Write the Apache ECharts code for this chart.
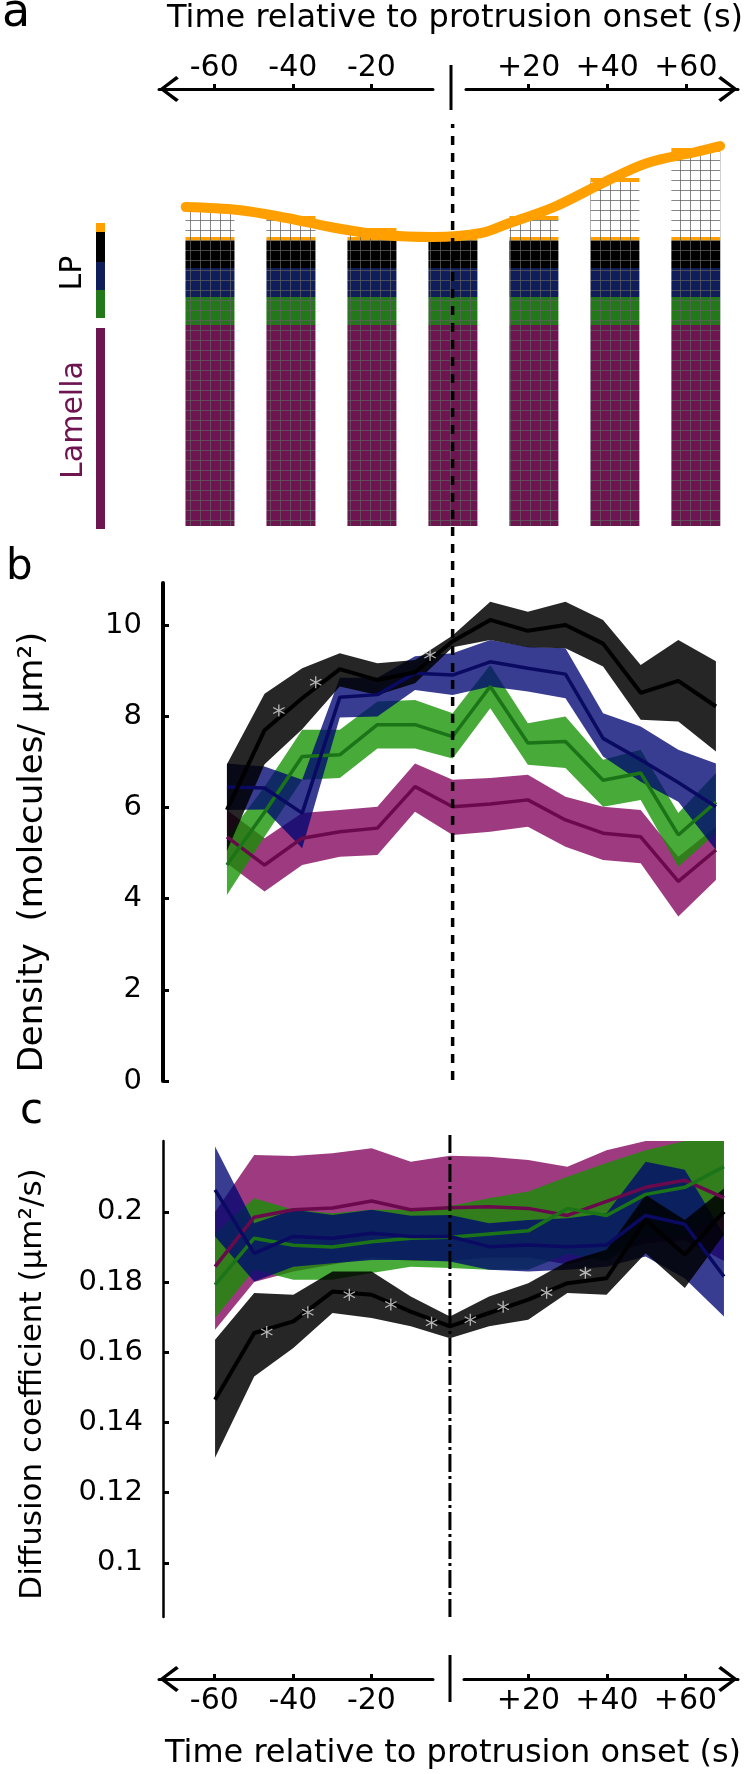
<!DOCTYPE html>
<html>
<head>
<meta charset="utf-8">
<script src="https://cdn.jsdelivr.net/npm/echarts@6.0.0/dist/echarts.min.js"></script>
<style>
  html, body { margin: 0; padding: 0; background: #fff; }
  #main { width: 750px; height: 1774px; }
</style>
</head>
<body>
<div id="main"></div>
<script>
// ---- panel a : schematic of the cell edge (units of ~10 px) ----
var colTimes = [-60, -40, -20, 0, 20, 40, 60];
var lamellaDepth = 20.1, lpGreenDepth = 2.8, lpBlueDepth = 2.9, lpBlackDepth = 2.7, edgeDepth = 0.4;
var protrusion = [2.5, 1.7, 0.5, 0, 1.7, 5.5, 8.5];
var edgeTimes = [-66, -53, -41, -29, -17, -5, 7, 14, 25, 37, 48, 60, 66];
var edgeHeights = [3.0, 2.7, 1.9, 0.9, 0.2, 0.0, 0.4, 1.4, 3.0, 5.4, 7.4, 8.5, 9.1];

// ---- time points of panels b and c (s) ----
var timeSec = [-60, -50, -40, -30, -20, -10, 0, 10, 20, 30, 40, 50, 60, 70];
var arrowTicksLeft = [-60, -40, -20];
var arrowTicksRight = [20, 40, 60];

// ---- panel b : density ----
var densTicks = [0, 2, 4, 6, 8, 10];
var densBlack   = [5.95, 7.70, 8.40, 9.04, 8.80, 8.97, 9.65, 10.12, 9.88, 10.01, 9.60, 8.52, 8.78, 8.22];
var densBlackLo = [5.05, 6.95, 7.72, 8.66, 8.47, 8.73, 9.52, 9.68, 9.52, 9.50, 9.10, 7.93, 7.89, 7.23];
var densBlackHi = [6.95, 8.50, 9.06, 9.39, 9.17, 9.24, 9.78, 10.52, 10.30, 10.52, 10.12, 9.13, 9.68, 9.21];
var densBlue    = [6.45, 6.43, 5.88, 8.42, 8.48, 8.95, 8.91, 9.20, 9.06, 8.93, 7.52, 7.05, 6.55, 6.02];
var densBlueLo  = [5.95, 5.96, 5.11, 7.98, 8.00, 8.58, 8.47, 8.66, 8.55, 8.40, 7.12, 6.57, 6.13, 5.07];
var densBlueHi  = [6.97, 6.90, 6.61, 8.85, 8.85, 9.32, 9.39, 9.68, 9.53, 9.50, 8.07, 7.78, 7.27, 6.97];
var densGreen   = [4.74, 5.90, 7.12, 7.16, 7.82, 7.82, 7.56, 8.66, 7.42, 7.45, 6.60, 6.76, 5.40, 6.12];
var densGreenLo = [4.08, 5.36, 6.61, 6.65, 7.30, 7.30, 7.08, 8.18, 6.94, 6.87, 6.02, 6.17, 4.70, 5.44];
var densGreenHi = [5.36, 6.46, 7.71, 7.71, 8.33, 8.36, 8.07, 9.13, 7.85, 8.00, 7.05, 7.27, 5.88, 6.76];
var densPurple   = [5.36, 4.74, 5.33, 5.47, 5.55, 6.46, 6.02, 6.08, 6.17, 5.73, 5.44, 5.36, 4.38, 5.07];
var densPurpleLo = [4.78, 4.16, 4.74, 4.92, 4.96, 5.91, 5.40, 5.47, 5.58, 5.14, 4.85, 4.78, 3.61, 4.41];
var densPurpleHi = [5.95, 5.33, 5.88, 5.95, 6.02, 6.97, 6.61, 6.65, 6.72, 6.24, 6.02, 5.95, 4.92, 5.58];
var starTimesB = [-46.2, -36.4, -6.0];
var starValsB = [8.13, 8.75, 9.35];

// ---- panel c : diffusion coefficient ----
var diffTicks = [0.1, 0.12, 0.14, 0.16, 0.18, 0.2];
var diffBlack   = [0.1465, 0.1655, 0.1688, 0.1773, 0.1764, 0.1716, 0.1674, 0.1712, 0.1750, 0.1797, 0.1811, 0.1977, 0.1878, 0.2001];
var diffBlackLo = [0.1300, 0.1531, 0.1612, 0.1712, 0.1698, 0.1674, 0.1640, 0.1674, 0.1693, 0.1769, 0.1764, 0.1882, 0.1783, 0.1935];
var diffBlackHi = [0.1636, 0.1769, 0.1764, 0.1830, 0.1830, 0.1759, 0.1702, 0.1759, 0.1797, 0.1859, 0.1892, 0.2048, 0.1977, 0.2067];
var diffBlue    = [0.2063, 0.1882, 0.1930, 0.1925, 0.1939, 0.1930, 0.1930, 0.1901, 0.1906, 0.1901, 0.1906, 0.1990, 0.1965, 0.1816];
var diffBlueLo  = [0.1930, 0.1802, 0.1844, 0.1854, 0.1863, 0.1863, 0.1859, 0.1835, 0.1830, 0.1835, 0.1844, 0.1873, 0.1810, 0.1702];
var diffBlueHi  = [0.2186, 0.1968, 0.2006, 0.1991, 0.2006, 0.1989, 0.1991, 0.1968, 0.1977, 0.1982, 0.1996, 0.2143, 0.2120, 0.1935];
var diffGreen   = [0.1792, 0.1925, 0.1905, 0.1900, 0.1915, 0.1925, 0.1928, 0.1937, 0.1946, 0.2010, 0.1990, 0.2050, 0.2070, 0.2129];
var diffGreenLo = [0.1698, 0.1835, 0.1807, 0.1807, 0.1826, 0.1844, 0.1840, 0.1835, 0.1835, 0.1880, 0.1860, 0.1930, 0.1930, 0.2000];
var diffGreenHi = [0.1939, 0.2039, 0.2006, 0.1996, 0.2006, 0.2006, 0.2017, 0.2039, 0.2058, 0.2100, 0.2139, 0.2176, 0.2230, 0.2250];
var diffPurple   = [0.1844, 0.1985, 0.2006, 0.2011, 0.2031, 0.2006, 0.2012, 0.2015, 0.2010, 0.1990, 0.2030, 0.2070, 0.2090, 0.2040];
var diffPurpleLo = [0.1664, 0.1800, 0.1830, 0.1850, 0.1870, 0.1860, 0.1860, 0.1870, 0.1870, 0.1850, 0.1880, 0.1910, 0.1920, 0.1860];
var diffPurpleHi = [0.2000, 0.2162, 0.2159, 0.2167, 0.2181, 0.2143, 0.2160, 0.2157, 0.2148, 0.2129, 0.2176, 0.2230, 0.2240, 0.2230];
var starTimesC = [-46.8, -36.3, -25.7, -15.1, -4.7, 5.2, 13.6, 24.7, 34.6];
var starValsC = [0.1658, 0.1714, 0.1764, 0.1736, 0.1684, 0.1693, 0.1730, 0.1770, 0.1827];

var FONT = 'DejaVu Sans';
var chevron = 'path://M13,0 L26,17 L23.6,19.6 L13,5.2 L2.4,19.6 L0,17 Z';
var asterisk = 'path://M9,0 L11,0 L11,20 L9,20 Z M1.84,4.13 L19.16,14.13 L18.16,15.87 L0.84,5.87 Z M0.84,14.13 L18.16,4.13 L19.16,5.87 L1.84,15.87 Z';

// hatch pattern used on the schematic columns
function hatch(bg) {
    var c = document.createElement('canvas');
    c.width = 10; c.height = 10;
    var g = c.getContext('2d');
    g.fillStyle = bg;
    g.fillRect(0, 0, 10, 10);
    g.fillStyle = 'rgba(95,95,95,0.75)';
    g.fillRect(0, 0, 1, 10);
    g.fillRect(0, 0, 10, 1);
    return { image: c, repeat: 'repeat' };
}

function pairs(xs, ys) {
    return xs.map(function (x, i) { return [x, ys[i]]; });
}

// layers of one column, bottom to top
var layerFills = [hatch('#6e1450'), hatch('#237819'), hatch('#0f1e5a'), hatch('#000000'),
                  hatch('#ffa000'), hatch('#ffffff'), '#ffa000'];

var columns = {
    type: 'custom', xAxisIndex: 0, yAxisIndex: 0, silent: true, z: 2,
    data: pairs(colTimes, protrusion),
    renderItem: function (params, api) {
        var t = api.value(0);
        var depths = [lamellaDepth, lpGreenDepth, lpBlueDepth, lpBlackDepth, edgeDepth, api.value(1), edgeDepth];
        var base = 0, kids = [];
        depths.forEach(function (d, k) {
            var p0 = api.coord([t, base]);
            var p1 = api.coord([t, base + d]);
            base += d;
            if (d <= 0) return;
            kids.push({ type: 'rect', shape: { x: p0[0] - 24.5, y: p1[1], width: 49, height: p0[1] - p1[1] },
                        style: { fill: layerFills[k] } });
        });
        return { type: 'group', children: kids };
    }
};

// shaded band between lo and hi, drawn as one polygon
function bandArea(axis, lo, hi, fill) {
    return {
        type: 'custom', xAxisIndex: axis, yAxisIndex: axis, silent: true,
        data: timeSec.map(function (t, i) { return [t, lo[i], hi[i]]; }),
        encode: { x: 0, y: [1, 2] },
        renderItem: function (params, api) {
            if (params.dataIndex !== 0) return null;
            var up = [], down = [];
            for (var i = 0; i < timeSec.length; i++) {
                up.push(api.coord([timeSec[i], hi[i]]));
                down.push(api.coord([timeSec[i], lo[i]]));
            }
            var cs = params.coordSys;
            var pts = echarts.graphic.clipPointsByRect(up.concat(down.reverse()),
                { x: cs.x, y: cs.y, width: cs.width, height: cs.height });
            return { type: 'polygon', shape: { points: pts }, style: { fill: fill } };
        }
    };
}

function meanLine(axis, mean, color, width) {
    return { type: 'line', xAxisIndex: axis, yAxisIndex: axis, data: pairs(timeSec, mean),
             symbol: 'none', lineStyle: { color: color, width: width }, silent: true };
}

function arrowX(grid, pos, min, max, ticks, isLeft) {
    var fmt = function (v) { return v > 0 ? '+' + v : String(v); };
    return {
        gridIndex: grid, type: 'value', position: pos, min: min, max: max,
        splitLine: { show: false },
        axisLine: {
            show: true, onZero: false,
            symbol: isLeft ? [chevron, 'none'] : ['none', chevron],
            symbolSize: [26, 20], symbolOffset: isLeft ? [10, 0] : [0, -10],
            lineStyle: { color: '#000', width: 3 }
        },
        axisTick: { show: true, inside: pos === 'bottom', length: 5, customValues: ticks,
                    lineStyle: { color: '#000', width: 3 } },
        axisLabel: { show: true, customValues: ticks, formatter: fmt, fontSize: 30,
                     color: '#000', margin: pos === 'top' ? 6 : 7 }
    };
}

function hiddenX(grid, min, max) {
    return { gridIndex: grid, type: 'value', min: min, max: max, show: false };
}
function hiddenY(grid, min, max) {
    return { gridIndex: grid, type: 'value', min: min, max: max, show: false };
}

var lpTop = lamellaDepth + lpGreenDepth + lpBlueDepth + lpBlackDepth + edgeDepth;

function grid(o) { return Object.assign({ outerBoundsMode: 'none', containLabel: false }, o); }

var purpleFill = 'rgba(129,2,92,0.78)', greenFill = 'rgba(20,146,0,0.78)';
var blueFill = 'rgba(0,6,114,0.78)', blackFill = 'rgba(0,0,0,0.85)';

var series = [
    columns,
    { type: 'line', xAxisIndex: 0, yAxisIndex: 0, smooth: 0.35, symbol: 'none', silent: true, z: 4,
      data: edgeTimes.map(function (t, i) { return [t, lpTop + edgeHeights[i]]; }),
      lineStyle: { color: '#ffa000', width: 10, cap: 'round' } },

    bandArea(1, densPurpleLo, densPurpleHi, purpleFill), meanLine(1, densPurple, '#6a0a4c', 3.5),
    bandArea(1, densGreenLo, densGreenHi, greenFill),    meanLine(1, densGreen, '#1c7418', 3.5),
    bandArea(1, densBlueLo, densBlueHi, blueFill),       meanLine(1, densBlue, '#0a0a62', 3.5),
    bandArea(1, densBlackLo, densBlackHi, blackFill),    meanLine(1, densBlack, '#000000', 4),

    bandArea(2, diffPurpleLo, diffPurpleHi, purpleFill), meanLine(2, diffPurple, '#6a0a4c', 3.5),
    bandArea(2, diffGreenLo, diffGreenHi, greenFill),    meanLine(2, diffGreen, '#1c7418', 3.5),
    bandArea(2, diffBlueLo, diffBlueHi, blueFill),       meanLine(2, diffBlue, '#0a0a62', 3.5),
    bandArea(2, diffBlackLo, diffBlackHi, blackFill),    meanLine(2, diffBlack, '#000000', 4),

    { type: 'scatter', xAxisIndex: 1, yAxisIndex: 1, data: pairs(starTimesB, starValsB), symbol: asterisk,
      symbolSize: 12, itemStyle: { color: '#dcdcdc' }, silent: true, z: 6 },
    { type: 'scatter', xAxisIndex: 2, yAxisIndex: 2, data: pairs(starTimesC, starValsC), symbol: asterisk,
      symbolSize: 12, itemStyle: { color: '#dcdcdc' }, silent: true, z: 6 },
    { type: 'line', xAxisIndex: 3, yAxisIndex: 3, data: [[0, 0], [0, 1]], symbol: 'none', silent: true, z: 8,
      lineStyle: { color: '#000', width: 3.5, type: [9, 8] } },
    { type: 'line', xAxisIndex: 4, yAxisIndex: 4, data: [[0, 0], [0, 1]], symbol: 'none', silent: true, z: 8,
      lineStyle: { color: '#000', width: 3, type: [18, 4, 3, 4] } }
];

var option = {
    animation: false,
    backgroundColor: '#fff',
    textStyle: { fontFamily: FONT, color: '#000' },
    grid: [
        grid({ left: 163, width: 577, top: 126, height: 400 }),   // 0 panel a
        grid({ left: 163, width: 577, top: 583, height: 498 }),   // 1 panel b
        grid({ left: 163, width: 577, top: 1141, height: 476 }),  // 2 panel c
        grid({ left: 163, width: 577, top: 124, height: 956 }),   // 3 guide a+b
        grid({ left: 163, width: 577, top: 1133, height: 484 }),  // 4 guide c
        grid({ left: 159, width: 274, top: 89, height: 1 }),      // 5 top arrow left
        grid({ left: 466, width: 272, top: 89, height: 1 }),      // 6 top arrow right
        grid({ left: 159, width: 274, top: 1678, height: 1 }),    // 7 bottom arrow left
        grid({ left: 464, width: 274, top: 1678, height: 1 })     // 8 bottom arrow right
    ],
    xAxis: [
        hiddenX(0, -71.6, 70.9),
        hiddenX(1, -77, 76.4),
        hiddenX(2, -73.3, 74.1),
        hiddenX(3, -77, 76.4),
        hiddenX(4, -73.3, 74.1),
        arrowX(5, 'top', -74.05, -4.33, arrowTicksLeft, true),
        arrowX(6, 'top', 4.07, 73.28, arrowTicksRight, false),
        arrowX(7, 'bottom', -74.1, -4.33, arrowTicksLeft, true),
        arrowX(8, 'bottom', 3.57, 73.4, arrowTicksRight, false)
    ],
    yAxis: [
        hiddenY(0, 0, 40),
        {
            gridIndex: 1, type: 'value', min: 0, max: 10.93,
            splitLine: { show: false },
            axisLine: { show: true, onZero: false, lineStyle: { color: '#000', width: 4 } },
            axisTick: { show: true, inside: true, length: 6, customValues: densTicks,
                        lineStyle: { color: '#000', width: 3 } },
            axisLabel: { customValues: densTicks, fontSize: 29, color: '#000', margin: 21 },
            name: 'Density  (molecules/ µm²)', nameLocation: 'middle', nameRotate: 90, nameGap: 113,
            nameTextStyle: { fontSize: 34, color: '#000', padding: [0, 40, 0, 0] }
        },
        {
            gridIndex: 2, type: 'value', min: 0.0846, max: 0.2202,
            splitLine: { show: false },
            axisLine: { show: true, onZero: false, lineStyle: { color: '#000', width: 2.5 } },
            axisTick: { show: true, inside: true, length: 6, customValues: diffTicks,
                        lineStyle: { color: '#000', width: 3 } },
            axisLabel: { customValues: diffTicks, fontSize: 29, color: '#000', margin: 20 },
            name: 'Diffusion coefficient (µm²/s)', nameLocation: 'middle', nameRotate: 90, nameGap: 115,
            nameTextStyle: { fontSize: 31, color: '#000', padding: [0, 10, 0, 0] }
        },
        hiddenY(3, 0, 1),
        hiddenY(4, 0, 1),
        hiddenY(5, 0, 1),
        hiddenY(6, 0, 1),
        hiddenY(7, 0, 1),
        hiddenY(8, 0, 1)
    ],
    graphic: [
        { type: 'text', x: 2, y: 14, style: { text: 'a', fontSize: 46, fontFamily: FONT, fill: '#000', align: 'left', verticalAlign: 'middle' } },
        { type: 'text', x: 6, y: 568, style: { text: 'b', fontSize: 42, fontFamily: FONT, fill: '#000', align: 'left', verticalAlign: 'middle' } },
        { type: 'text', x: 20, y: 1112, style: { text: 'c', fontSize: 42, fontFamily: FONT, fill: '#000', align: 'left', verticalAlign: 'middle' } },
        { type: 'text', x: 455, y: 19, style: { text: 'Time relative to protrusion onset (s)', fontSize: 32, fontFamily: FONT, fill: '#000', align: 'center', verticalAlign: 'middle' } },
        { type: 'text', x: 453, y: 1754, style: { text: 'Time relative to protrusion onset (s)', fontSize: 32, fontFamily: FONT, fill: '#000', align: 'center', verticalAlign: 'middle' } },
        { type: 'line', shape: { x1: 451, y1: 65, x2: 451, y2: 110 }, style: { stroke: '#000', lineWidth: 3 } },
        { type: 'line', shape: { x1: 450, y1: 1655, x2: 450, y2: 1702 }, style: { stroke: '#000', lineWidth: 3 } },
        { type: 'text', x: 73, y: 273, rotation: Math.PI / 2, style: { text: 'LP', fontSize: 30, fontFamily: FONT, fill: '#000', align: 'center', verticalAlign: 'middle' } },
        { type: 'text', x: 74, y: 420, rotation: Math.PI / 2, style: { text: 'Lamella', fontSize: 30, fontFamily: FONT, fill: '#6e1450', align: 'center', verticalAlign: 'middle' } },
        { type: 'rect', shape: { x: 96, y: 223, width: 9, height: 9 }, style: { fill: '#ffa000' } },
        { type: 'rect', shape: { x: 96, y: 232, width: 9, height: 30 }, style: { fill: '#000' } },
        { type: 'rect', shape: { x: 96, y: 262, width: 9, height: 28 }, style: { fill: '#0f1e5a' } },
        { type: 'rect', shape: { x: 96, y: 290, width: 9, height: 28 }, style: { fill: '#237819' } },
        { type: 'rect', shape: { x: 96, y: 328, width: 9, height: 201 }, style: { fill: '#6e1450' } }
    ],
    series: series
};

var myChart = echarts.init(document.getElementById('main'));
myChart.setOption(option);
</script>
</body>
</html>
